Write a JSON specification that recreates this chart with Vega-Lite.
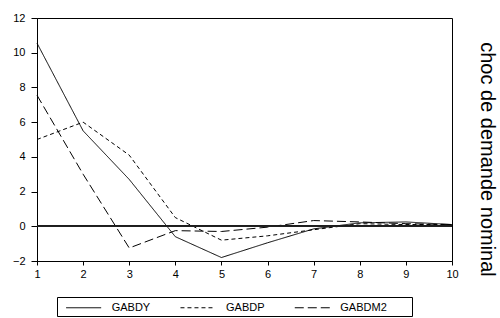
{
  "$schema": "https://vega.github.io/schema/vega-lite/v6.json",
  "width": 415,
  "height": 243,
  "autosize": {"type": "none"},
  "padding": {"left": 37, "top": 18, "right": 48, "bottom": 57},
  "background": "white",
  "config": {
    "font": "Liberation Sans",
    "view": {"stroke": "black", "strokeWidth": 1},
    "axis": {"grid": false, "domainColor": "black", "tickColor": "black", "labelColor": "black", "labelFontSize": 11, "labelFont": "Liberation Sans", "labelOverlap": false}
  },
  "title": {
    "text": "choc de demande nominal",
    "orient": "right",
    "anchor": "middle",
    "fontSize": 20,
    "fontWeight": "normal",
    "font": "Liberation Sans",
    "color": "black",
    "offset": 19,
    "dx": 20
  },
  "data": {
    "values": [
      {"t": 1, "s": "GABDY", "v": 10.55},
      {"t": 2, "s": "GABDY", "v": 5.5},
      {"t": 3, "s": "GABDY", "v": 2.7},
      {"t": 4, "s": "GABDY", "v": -0.6},
      {"t": 5, "s": "GABDY", "v": -1.8},
      {"t": 6, "s": "GABDY", "v": -0.95},
      {"t": 7, "s": "GABDY", "v": -0.15},
      {"t": 8, "s": "GABDY", "v": 0.2},
      {"t": 9, "s": "GABDY", "v": 0.25},
      {"t": 10, "s": "GABDY", "v": 0.1},
      {"t": 1, "s": "GABDP", "v": 5.0},
      {"t": 2, "s": "GABDP", "v": 6.0},
      {"t": 3, "s": "GABDP", "v": 4.1},
      {"t": 4, "s": "GABDP", "v": 0.5},
      {"t": 5, "s": "GABDP", "v": -0.8},
      {"t": 6, "s": "GABDP", "v": -0.55},
      {"t": 7, "s": "GABDP", "v": -0.2},
      {"t": 8, "s": "GABDP", "v": 0.15},
      {"t": 9, "s": "GABDP", "v": 0.1},
      {"t": 10, "s": "GABDP", "v": 0.1},
      {"t": 1, "s": "GABDM2", "v": 7.55},
      {"t": 2, "s": "GABDM2", "v": 3.0},
      {"t": 3, "s": "GABDM2", "v": -1.25},
      {"t": 4, "s": "GABDM2", "v": -0.25},
      {"t": 5, "s": "GABDM2", "v": -0.3},
      {"t": 6, "s": "GABDM2", "v": -0.05},
      {"t": 7, "s": "GABDM2", "v": 0.33},
      {"t": 8, "s": "GABDM2", "v": 0.25},
      {"t": 9, "s": "GABDM2", "v": 0.15},
      {"t": 10, "s": "GABDM2", "v": 0.1}
    ]
  },
  "layer": [
    {
      "mark": {"type": "line", "color": "black", "strokeWidth": 1},
      "encoding": {
        "x": {
          "field": "t", "type": "quantitative",
          "scale": {"domain": [1, 10], "nice": false, "zero": false},
          "axis": {"title": null, "values": [1,2,3,4,5,6,7,8,9,10], "tickSize": 4, "labelPadding": 3, "labelFlush": false, "labelOverlap": false}
        },
        "y": {
          "field": "v", "type": "quantitative",
          "scale": {"domain": [-2, 12], "nice": false},
          "axis": {"title": null, "values": [-2,0,2,4,6,8,10,12], "tickSize": 6, "labelPadding": 6, "labelFlush": false, "labelOverlap": false}
        },
        "strokeDash": {
          "field": "s", "type": "nominal",
          "sort": ["GABDY", "GABDP", "GABDM2"],
          "scale": {"domain": ["GABDY", "GABDP", "GABDM2"], "range": [[1, 0], [4, 3], [9, 4]]},
          "legend": {
            "title": "\u00a0",
            "titleOrient": "right",
            "titlePadding": 22,
            "orient": "none",
            "direction": "horizontal",
            "legendX": 20,
            "legendY": 279,
            "strokeColor": "black",
            "padding": 3,
            "symbolType": "M-0.19,0H4.81",
            "symbolSize": 196,
            "symbolStrokeWidth": 1,
            "symbolStrokeColor": "black",
            "labelFontSize": 11,
            "labelColor": "black",
            "labelOffset": 36.7,
            "columnPadding": 23.3
          }
        }
      }
    },
    {
      "mark": {"type": "rule", "color": "#222222", "strokeWidth": 0.8},
      "encoding": {
        "y": {
          "datum": 0, "type": "quantitative",
          "axis": {"title": null, "values": [-2,0,2,4,6,8,10,12], "tickSize": 6, "labelPadding": 6, "labelFlush": false, "labelOverlap": false}
        }
      }
    }
  ]
}
